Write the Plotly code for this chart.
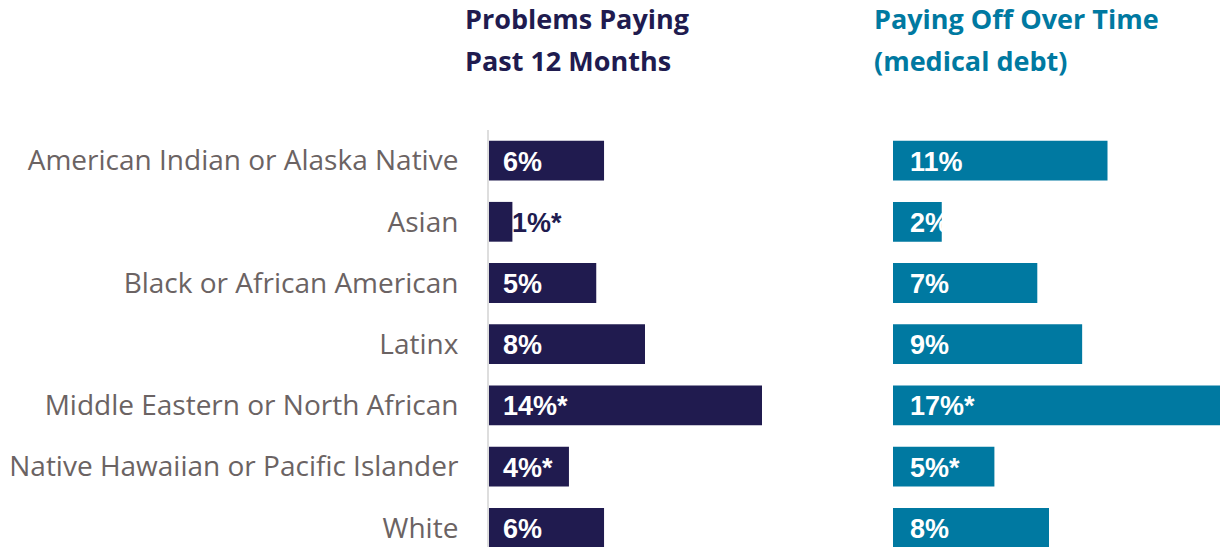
import plotly.graph_objects as go

groups = [
    "American Indian or Alaska Native",
    "Asian",
    "Black or African American",
    "Latinx",
    "Middle Eastern or North African",
    "Native Hawaiian or Pacific Islander",
    "White",
]
problems_paying = [5.9, 1.2, 5.5, 8.0, 14.0, 4.1, 5.9]
problems_labels = ["6%", "1%*", "5%", "8%", "14%*", "4%*", "6%"]
paying_off = [11.0, 2.5, 7.4, 9.7, 17.0, 5.2, 8.0]
paying_off_labels = ["11%", "2%", "7%", "9%", "17%*", "5%*", "8%"]
left_title = ["Problems Paying", "Past 12 Months"]
right_title = ["Paying Off Over Time", "(medical debt)"]

NAVY = "#201b4f"
TEAL = "#0079a1"
W, H = 1220, 547
TOP = 130
PX_PER_PCT = 19.5
LABEL_FONT = "Liberation Sans, Arial, sans-serif"
TITLE_FONT = "Open Sans, sans-serif"

plot_h = H - TOP
left_dom = (489 / W, 860 / W)
right_dom = (893 / W, 1.0)

fig = go.Figure()
fig.add_bar(y=groups, x=problems_paying, orientation="h", marker_color=NAVY,
            marker_line_width=0, xaxis="x", yaxis="y", hoverinfo="skip")
fig.add_bar(y=groups, x=paying_off, orientation="h", marker_color=TEAL,
            marker_line_width=0, xaxis="x2", yaxis="y2", hoverinfo="skip")

annotations = []
for g, v, lab in zip(groups, problems_paying, problems_labels):
    inside = v > 2
    annotations.append(dict(
        x=0 if inside else v, y=g, xref="x", yref="y", text=f"<b>{lab}</b>",
        showarrow=False, xanchor="left", xshift=12 if inside else -2, yshift=-1,
        font=dict(family=LABEL_FONT, size=27, color="white" if inside else NAVY),
    ))
for g, v, lab in zip(groups, paying_off, paying_off_labels):
    annotations.append(dict(
        x=0, y=g, xref="x2", yref="y2", text=f"<b>{lab}</b>", showarrow=False,
        xanchor="left", xshift=15, yshift=-1,
        font=dict(family=LABEL_FONT, size=27, color="white"),
    ))

# two title lines each, placed by their pixel centre from the top of the page
for x0, lines, color in [(463, left_title, NAVY), (872, right_title, TEAL)]:
    for line, yc in zip(lines, [19, 61]):
        annotations.append(dict(
            x=x0 / W, y=1 + (TOP - yc) / plot_h, xref="paper", yref="paper",
            xanchor="left", yanchor="middle", text=f"<b>{line}</b>", showarrow=False,
            font=dict(family=TITLE_FONT, size=27, color=color),
        ))

n_rows = plot_h / 61.2
y_range = [-0.5 + n_rows, -0.5]

fig.update_layout(
    width=W, height=H,
    margin=dict(l=0, r=0, t=TOP, b=0),
    paper_bgcolor="white", plot_bgcolor="white",
    showlegend=False, bargap=0.35,
    annotations=annotations,
    xaxis=dict(domain=left_dom, range=[0, (860 - 489) / PX_PER_PCT],
               visible=False, fixedrange=True),
    xaxis2=dict(domain=right_dom, range=[0, (1220 - 893) / PX_PER_PCT],
                visible=False, fixedrange=True),
    yaxis=dict(anchor="x", range=y_range, showline=True, linecolor="#dedede",
               linewidth=2, showgrid=False, ticks="", ticklabelstandoff=23,
               tickfont=dict(family="Open Sans, sans-serif", size=28, color="#6b6363")),
    yaxis2=dict(anchor="x2", range=y_range, matches="y", showticklabels=False,
                showline=False, showgrid=False, ticks=""),
)

fig.write_html(
    "out.html",
    config=dict(displayModeBar=False),
    post_script="document.body.style.margin='0';document.body.style.overflow='hidden';",
)
